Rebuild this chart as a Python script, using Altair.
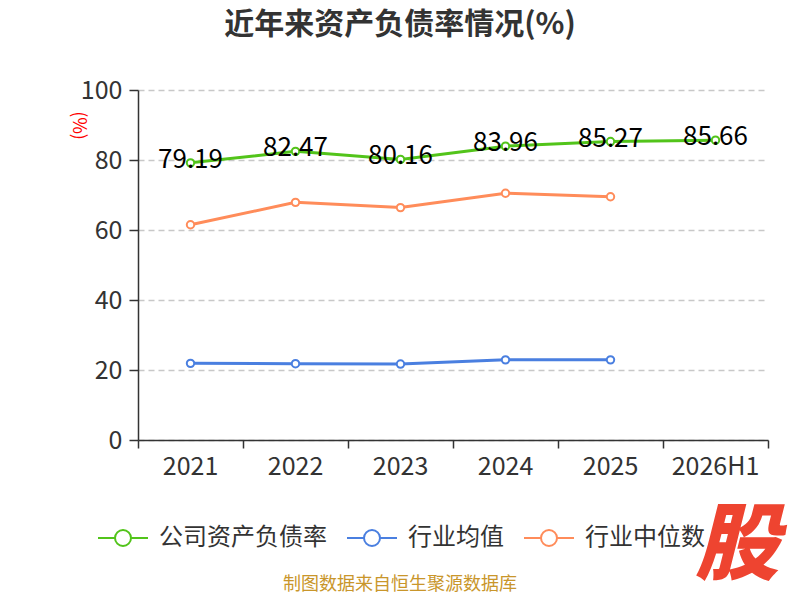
import altair as alt
import pandas as pd

# ---- data ----
years = ["2021", "2022", "2023", "2024", "2025", "2026H1"]
company_ratio = [79.19, 82.47, 80.16, 83.96, 85.27, 85.66]
industry_mean = [21.9, 21.8, 21.7, 22.9, 22.9]
industry_median = [61.5, 67.9, 66.4, 70.5, 69.5]
series_names = ["公司资产负债率", "行业均值", "行业中位数"]
series_colors = ["#52C41A", "#4A7FE0", "#FF8C5A"]
y_ticks = [0, 20, 40, 60, 80, 100]
title_text = "近年来资产负债率情况(%)"
source_text = "制图数据来自恒生聚源数据库"
badge_text = "股"

FONT = "Noto Sans CJK SC"

rows = []
for name, vals in zip(series_names, [company_ratio, industry_mean, industry_median]):
    for yr, v in zip(years, vals):
        rows.append({"year": yr, "series": name, "value": v})
df = pd.DataFrame(rows)
df_company = df[df["series"] == series_names[0]]

x_enc = alt.X(
    "year:N",
    sort=years,
    bandPosition=0.5,
    scale=alt.Scale(type="band", domain=years, paddingInner=0, paddingOuter=0),
    axis=alt.Axis(
        title=None, labelAngle=0, grid=False, bandPosition=1, tickExtra=True,
        domainColor="#333333", domainWidth=1.5, tickColor="#333333", tickWidth=1.5,
        tickSize=8, labelFontSize=25, labelColor="#333333", labelPadding=6,
        labelFont=FONT,
    ),
)
y_enc = alt.Y(
    "value:Q",
    scale=alt.Scale(domain=[0, 100], nice=False),
    axis=alt.Axis(
        values=y_ticks, title="(%)", titleColor="#FF0000", titleFontSize=18,
        titleFontWeight="normal", titleAngle=90, titleX=-61, titleY=35,
        titleAlign="center", titleBaseline="middle", titleFont=FONT,
        grid=True, gridDash=[6, 4], gridColor="#C8C8C8", gridWidth=1.5,
        domainColor="#333333", domainWidth=1.5, tickColor="#333333", tickWidth=1.5,
        tickSize=9, labelFontSize=25, labelColor="#333333", labelPadding=7,
        labelFont=FONT,
    ),
)

legend_symbol = "M-1,0L-0.32,0M0.32,0L1,0M0.32,0A0.32,0.32,0,1,1,-0.32,0A0.32,0.32,0,1,1,0.32,0Z"

color_enc = alt.Color(
    "series:N",
    sort=series_names,
    scale=alt.Scale(domain=series_names, range=series_colors),
    legend=alt.Legend(
        title=None, orient="none", legendX=-41, legendY=422, direction="horizontal",
        columns=3, columnPadding=16, labelOffset=10, symbolType=legend_symbol,
        symbolSize=2500, symbolStrokeWidth=2, symbolFillColor="white",
        labelFontSize=24, labelColor="#333333", labelFont=FONT, labelLimit=0,
        padding=0,
    ),
)

lines = alt.Chart(df).mark_line(
    strokeWidth=3,
    point=alt.OverlayMarkDef(filled=False, fill="white", size=55, strokeWidth=2),
).encode(x=x_enc, y=y_enc, color=color_enc)

labels = alt.Chart(df_company).mark_text(
    fontSize=26, font=FONT, color="#000000", baseline="middle", align="center", dy=-3
).encode(
    x=alt.X("year:N", sort=years, bandPosition=0.5),
    y=alt.Y("value:Q"),
    text=alt.Text("value:Q", format=".2f"),
)

title_mark = alt.Chart(pd.DataFrame({"t": [title_text]})).mark_text(
    fontSize=30, font=FONT, fontWeight="bold", color="#333333",
    align="center", baseline="middle",
).encode(x=alt.value(262), y=alt.value(-65), text="t:N")

source_mark = alt.Chart(pd.DataFrame({"t": [source_text]})).mark_text(
    fontSize=18, font=FONT, color="#C9962B", align="center", baseline="middle",
).encode(x=alt.value(262), y=alt.value(495), text="t:N")

chart = alt.layer(lines, labels, title_mark, source_mark).properties(
    width=630,
    height=350,
    padding={"left": 130, "top": 82, "right": 24, "bottom": 152},
    autosize=alt.AutoSizeParams(type="none"),
    title=alt.TitleParams(
        text=badge_text, orient="bottom", anchor="end", frame="group",
        align="right", baseline="middle", offset=-46, dx=11,
        fontSize=84, font=FONT, fontWeight=900, fontStyle="italic",
        color="#EE4430",
    ),
).configure_view(stroke=None)

chart.save("out.html", embed_options={"renderer": "svg", "actions": False})
